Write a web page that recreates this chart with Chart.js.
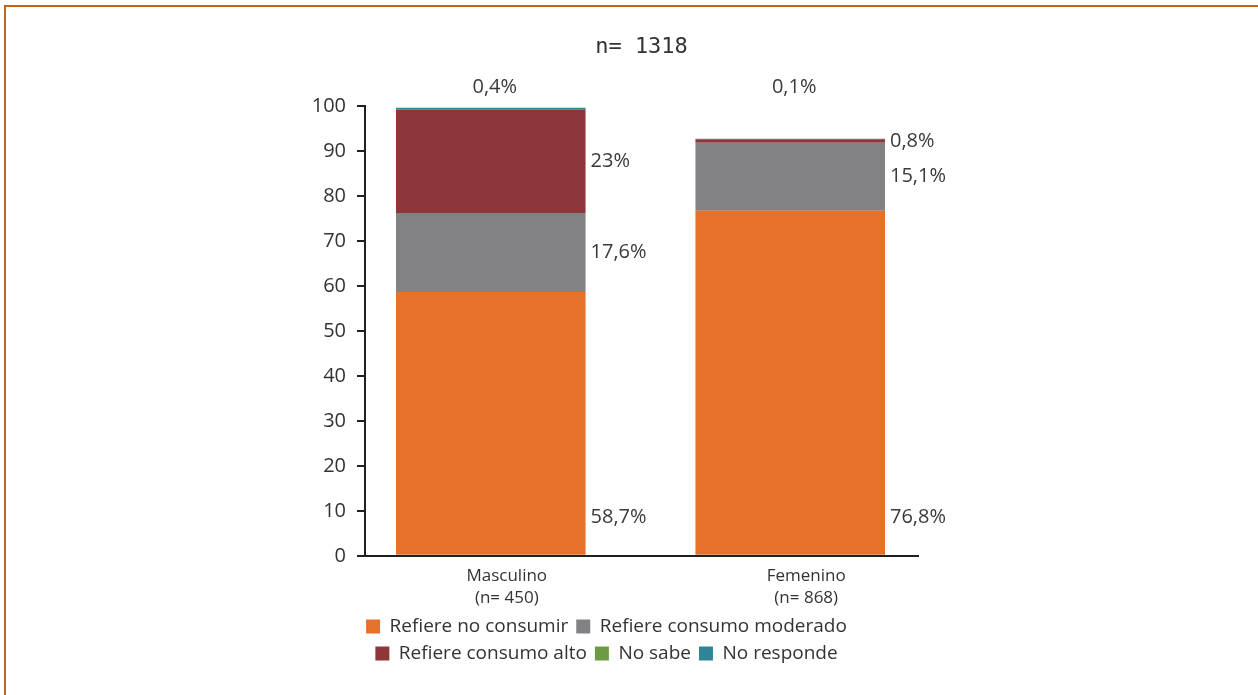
<!DOCTYPE html>
<html>
<head>
<meta charset="utf-8">
<script src="https://cdn.jsdelivr.net/npm/chart.js@4/dist/chart.umd.min.js"></script>
<style>
    html, body { margin: 0; padding: 0; background: #fff; overflow: hidden; }
    #frame {
        position: absolute; left: 4px; top: 5px;
        width: 1260px; height: 700px;
        border-top: 2px solid #c0651f;
        border-left: 2px solid #c0651f;
    }
    #wrap { position: absolute; left: 0; top: 0; width: 1258px; height: 695px; }
</style>
</head>
<body>
<div id="frame"></div>
<div id="wrap"><canvas id="consumoChart" width="1258" height="695"></canvas></div>
<script>
    // categorias (x = posicion de cada barra)
    const categorias = [['Masculino', '(n= 450)'], ['Femenino', '(n= 868)']];
    const posiciones = [0, 1];

    // porcentajes por serie
    const noConsumir = [58.7, 76.8];
    const consumoModerado = [17.6, 15.1];
    const consumoAlto = [23, 0.8];
    const noSabe = [0, 0];
    const noResponde = [0.4, 0.1];

    const yTicks = [0, 10, 20, 30, 40, 50, 60, 70, 80, 90, 100];

    const fuente = "'Open Sans', sans-serif";
    const texto = '#333333';

    function serie(label, valores, color) {
        return {
            label: label,
            data: valores.map(function(v, i) { return { x: posiciones[i], y: v }; }),
            backgroundColor: color,
            borderWidth: 0,
            barPercentage: 0.633,
            categoryPercentage: 1
        };
    }

    function formato(v) {
        return String(v).replace('.', ',') + '%';
    }

    // etiquetas de porcentaje junto a cada segmento
    const etiquetas = {
        id: 'etiquetas',
        afterDatasetsDraw: function(chart) {
            const ctx = chart.ctx;
            ctx.save();
            ctx.font = '20px ' + fuente;
            ctx.fillStyle = '#3a3a3a';
            ctx.textBaseline = 'middle';
            chart.data.datasets.forEach(function(ds, di) {
                const meta = chart.getDatasetMeta(di);
                meta.data.forEach(function(bar, i) {
                    const v = ds.data[i].y;
                    if (!v) return;
                    if (di === 4) {
                        ctx.textAlign = 'center';
                        ctx.fillText(formato(v), bar.x + 4, chart.chartArea.top - 19);
                        return;
                    }
                    ctx.textAlign = 'left';
                    const x = bar.x + bar.width / 2 + 5;
                    const y = di === 0 ? bar.base - 38 : (bar.y + bar.base) / 2;
                    ctx.fillText(formato(v), x, y);
                });
            });
            ctx.restore();
        }
    };

    const ctx = document.getElementById('consumoChart').getContext('2d');
    new Chart(ctx, {
        type: 'bar',
        data: {
            datasets: [
                serie('Refiere no consumir', noConsumir, '#e5712a'),
                serie('Refiere consumo moderado', consumoModerado, '#828285'),
                serie('Refiere consumo alto', consumoAlto, '#8e373a'),
                serie('No sabe', noSabe, '#6e9a44'),
                serie('No responde', noResponde, '#2e8499')
            ]
        },
        options: {
            responsive: false,
            animation: false,
            events: [],
            layout: {
                padding: { left: 295, right: 340, top: 0, bottom: 22 }
            },
            plugins: {
                title: {
                    display: true,
                    text: 'n= 1318',
                    fullSize: false,
                    color: texto,
                    font: { family: "'DejaVu Sans Mono', monospace", size: 22, weight: 'normal', lineHeight: 1.2 },
                    padding: { top: 34, bottom: 46 }
                },
                legend: {
                    position: 'bottom',
                    labels: {
                        color: texto,
                        font: { family: fuente, size: 19 },
                        boxWidth: 14,
                        boxHeight: 14,
                        padding: 8
                    }
                },
                tooltip: { enabled: false }
            },
            scales: {
                x: {
                    type: 'linear',
                    stacked: true,
                    offset: false,
                    min: -0.42,
                    max: 1.4267,
                    afterBuildTicks: function(scale) {
                        scale.ticks = posiciones.map(function(p) { return { value: p }; });
                    },
                    afterFit: function(scale) {
                        // sin el espacio extra bajo las etiquetas
                        scale.height = scale.height - 9;
                    },
                    ticks: {
                        color: texto,
                        font: { family: fuente, size: 17, lineHeight: 1.3 },
                        padding: 9,
                        labelOffset: 16,
                        autoSkip: false,
                        maxRotation: 0,
                        callback: function(value) {
                            const i = posiciones.indexOf(value);
                            return i >= 0 ? categorias[i] : '';
                        }
                    },
                    grid: { display: false, drawTicks: false },
                    border: { display: true, color: '#231f20', width: 2 }
                },
                y: {
                    stacked: true,
                    min: 0,
                    max: 100,
                    afterBuildTicks: function(scale) {
                        scale.ticks = yTicks.map(function(t) { return { value: t }; });
                    },
                    afterFit: function(scale) {
                        scale.width = 70;
                    },
                    ticks: {
                        color: texto,
                        font: { family: fuente, size: 20 },
                        padding: 11
                    },
                    grid: {
                        drawOnChartArea: false,
                        drawTicks: true,
                        tickLength: 8,
                        color: '#231f20',
                        lineWidth: 2
                    },
                    border: { display: true, color: '#231f20', width: 2 }
                }
            }
        },
        plugins: [etiquetas]
    });
</script>
</body>
</html>
